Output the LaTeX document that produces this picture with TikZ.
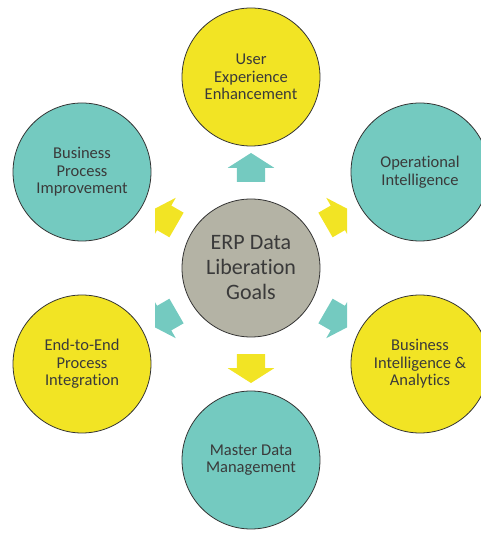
\documentclass[tikz,border=0pt]{standalone}
\usepackage{fontspec}
\setmainfont{Carlito}[Ligatures=NoCommon]
\usetikzlibrary{shapes.arrows}
\definecolor{goalyellow}{HTML}{F2E424}
\definecolor{goalteal}{HTML}{74CAC0}
\definecolor{hubgray}{HTML}{B4B3A5}
\definecolor{txtgray}{HTML}{3A3A3A}
\begin{document}
\begin{tikzpicture}[x=1pt, y=1pt,
        goal/.style={circle, draw=black!80, line width=0.8pt, minimum size=138pt, inner sep=0pt, align=center, text=txtgray, font=\fontsize{16.5}{17.5}\selectfont},
        blockarrow/.style={single arrow, draw=none, minimum height=29pt, inner xsep=0pt, inner ysep=14pt, single arrow head extend=9pt, single arrow tip angle=115, rotate=#1}]
        \useasboundingbox (0,0) rectangle (480,535);
        
        \node [goal, fill=hubgray, font=\fontsize{22}{25}\selectfont] (H) at (251,267) {ERP Data\\Liberation\\Goals};
        
        \node [goal, fill=goalyellow] (UX) at (251,458) {User\\Experience\\Enhancement};
        \node [goal, fill=goalteal] (OI) at (420,363) {Operational\\Intelligence};
        \node [goal, fill=goalyellow] (BI) at (420,171) {Business\\Intelligence \&\\Analytics};
        \node [goal, fill=goalteal] (MD) at (251,75) {Master Data\\Management};
        \node [goal, fill=goalyellow] (EE) at (82,171) {End-to-End\\Process\\Integration};
        \node [goal, fill=goalteal] (BP) at (82,363) {Business\\Process\\Improvement};
        
        \begin{scope}
        \clip (155,0) rectangle (347,535);
        \node [blockarrow=90, fill=goalteal] (a1) at ([shift={(90:96pt)}]H.center) {};
        \node [blockarrow=30, fill=goalyellow] (a2) at ([shift={(30:96pt)}]H.center) {};
        \node [blockarrow=-30, fill=goalteal] (a3) at ([shift={(-30:96pt)}]H.center) {};
        \node [blockarrow=-90, fill=goalyellow] (a4) at ([shift={(-90:96pt)}]H.center) {};
        \node [blockarrow=210, fill=goalteal] (a5) at ([shift={(210:96pt)}]H.center) {};
        \node [blockarrow=150, fill=goalyellow] (a6) at ([shift={(150:96pt)}]H.center) {};
        \end{scope}
    \end{tikzpicture}
\end{document}
